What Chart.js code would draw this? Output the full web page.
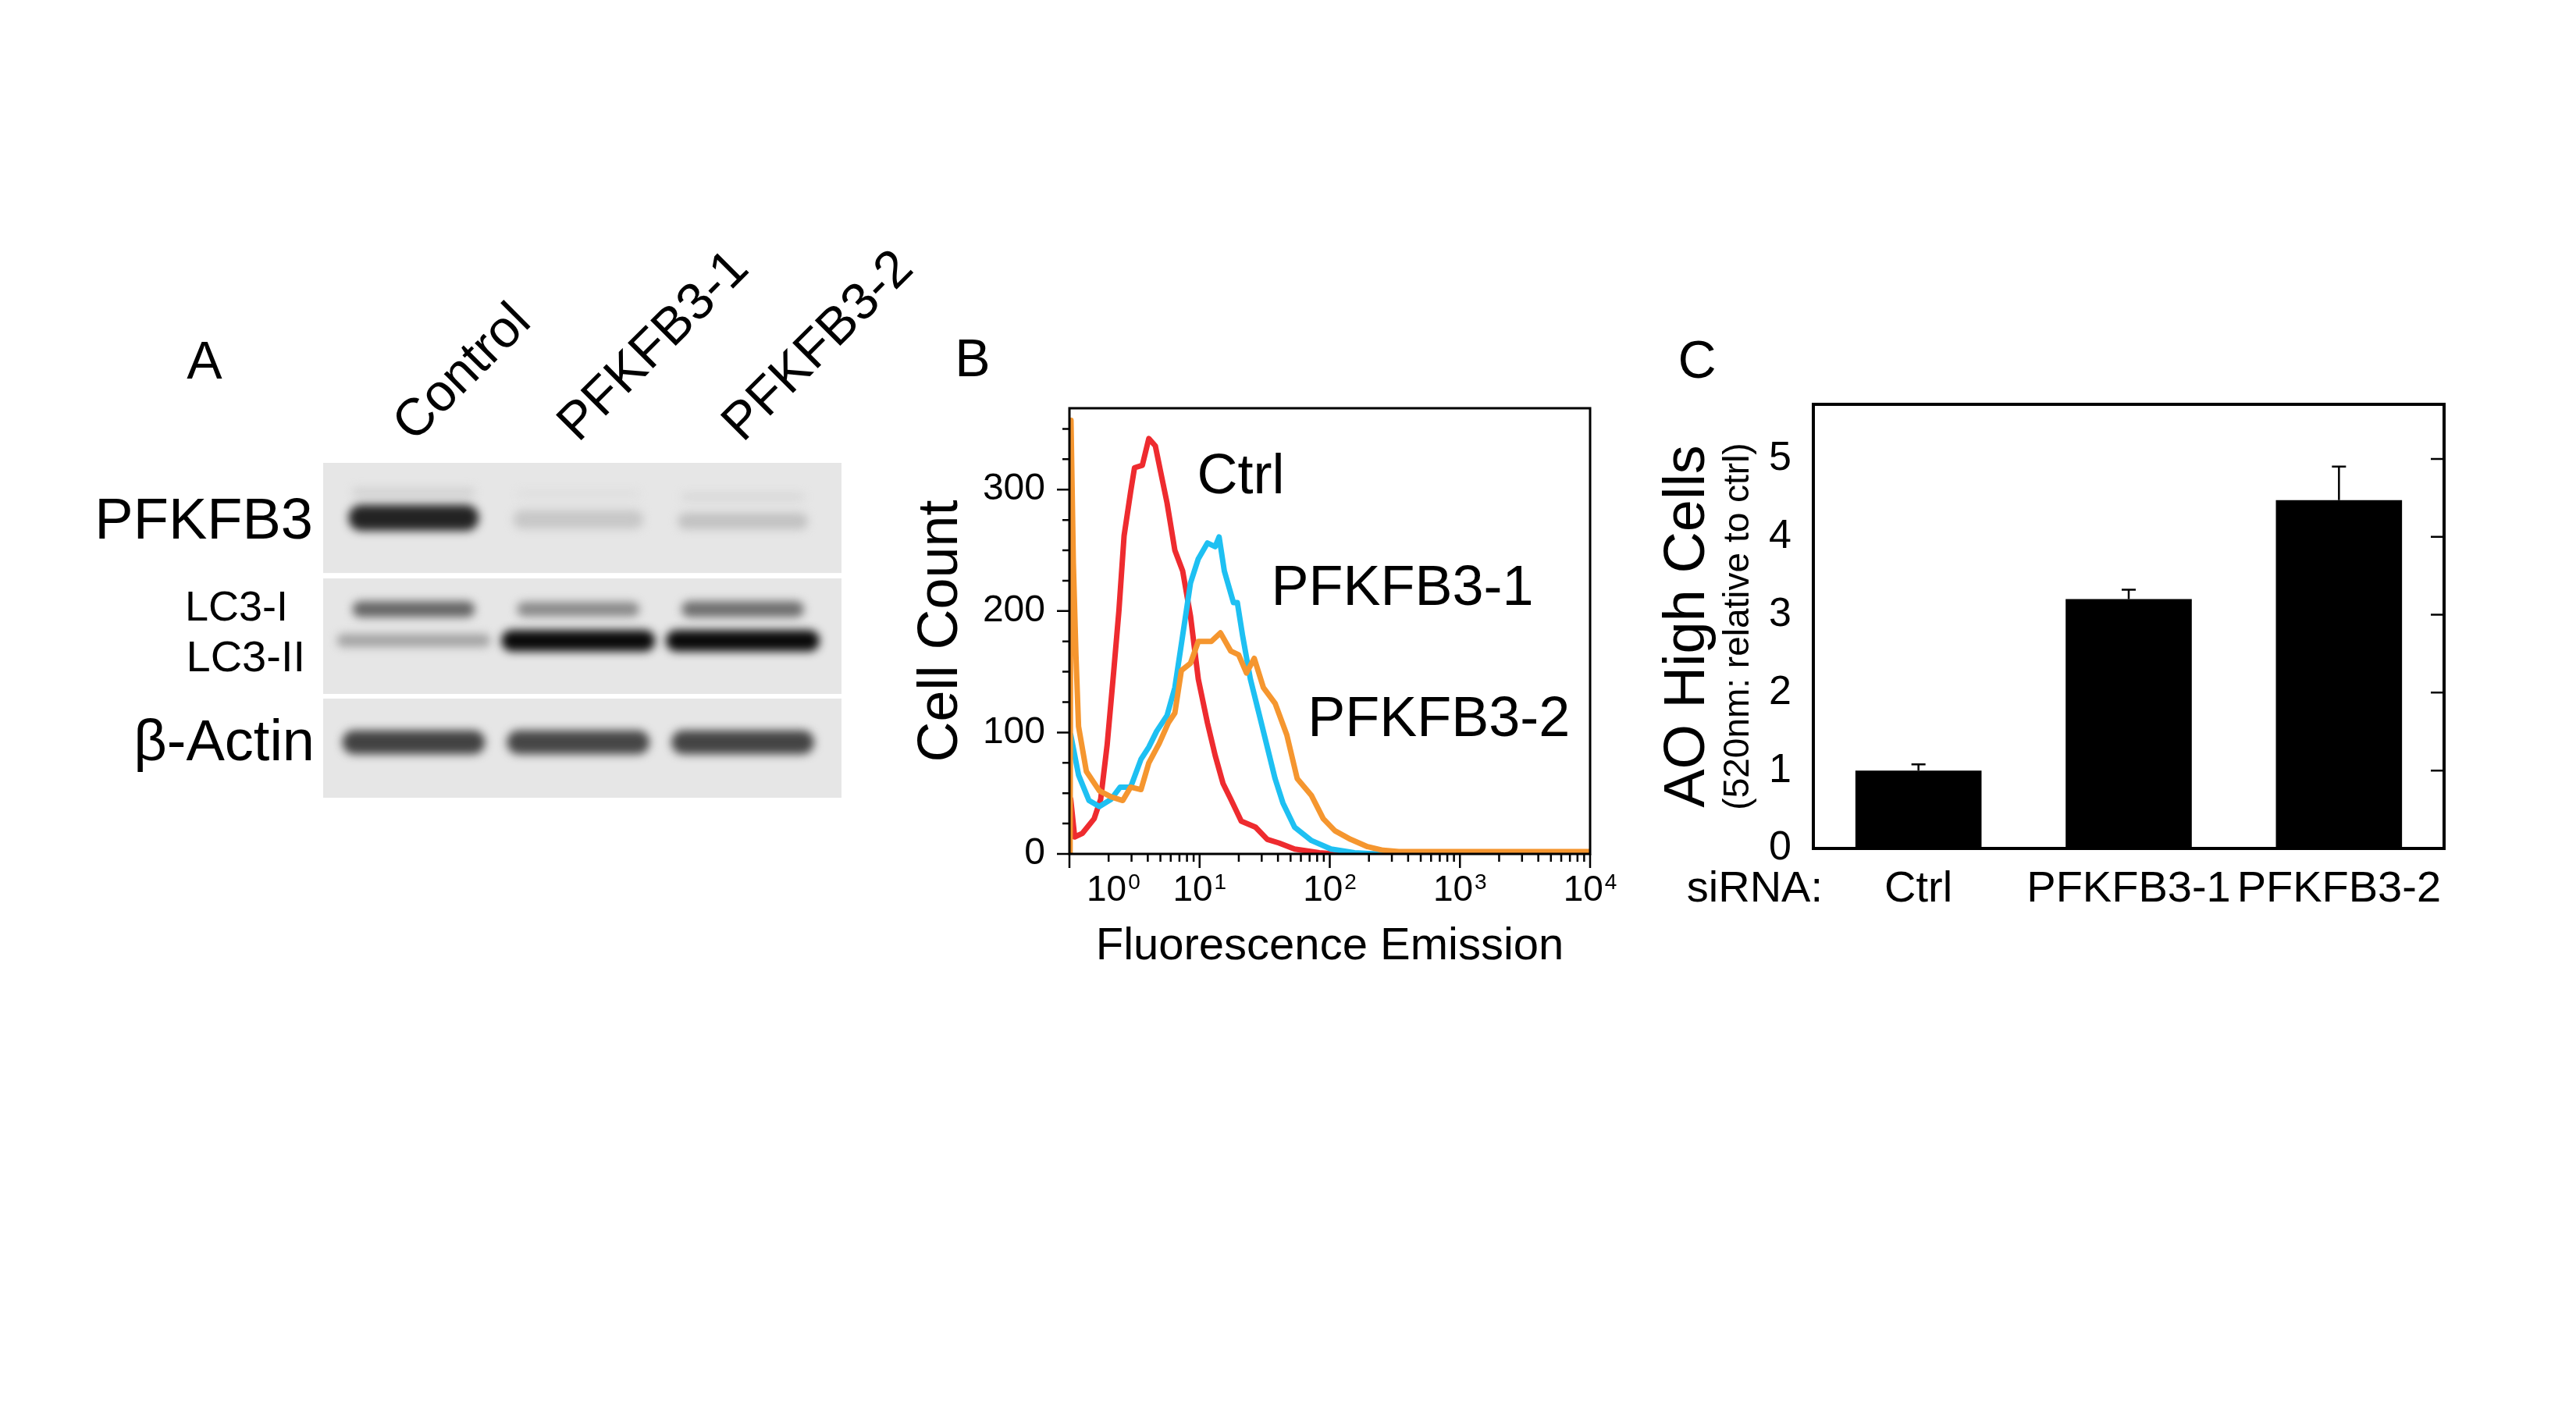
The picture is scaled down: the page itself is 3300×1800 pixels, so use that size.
<!DOCTYPE html>
<html>
<head>
<meta charset="utf-8">
<script src="https://cdn.jsdelivr.net/npm/chart.js@4.4.1/dist/chart.umd.min.js"></script>
<style>
  html, body { margin: 0; padding: 0; background: #fff; }
  body { width: 3300px; height: 1800px; position: relative; overflow: hidden; }
  canvas { position: absolute; }
</style>
</head>
<body>
<canvas id="blot" width="1150" height="800" style="left:100px;top:300px;width:1150px;height:800px"></canvas>
<canvas id="facs" width="950" height="900" style="left:1150px;top:400px;width:950px;height:900px"></canvas>
<canvas id="bars" width="1150" height="900" style="left:2100px;top:400px;width:1150px;height:900px"></canvas>
<script>
// ---- A: western blot (positions in % of blot height, 0 = top) ----
const lanes = ['Control', 'PFKFB3-1', 'PFKFB3-2'];
const blotRows = ['PFKFB3', 'LC3-I', 'LC3-II', 'β-Actin'];
const rowLabelPos = [17.9, 43.6, 58.7, 84.1];
const stripSpans = [[0, 32.9], [34.5, 69.0], [70.4, 100]];
const pfkfb3Span = [[12.6, 20.2], [14.2, 19.6], [15.0, 19.8]];
const pfkfb3Level = [0.88, 0.14, 0.16];
const pfkfb3UpperSpan = [[7.6, 10.0], [8.4, 10.2], [9.3, 11.0]];
const pfkfb3UpperLevel = [0.10, 0.04, 0.08];
const lc3iSpan = [[41.4, 46.0], [41.6, 45.8], [41.4, 46.0]];
const lc3iLevel = [0.58, 0.42, 0.54];
const lc3iiSpan = [[51.2, 54.9], [50.0, 56.2], [50.0, 56.2]];
const lc3iiLevel = [0.30, 0.99, 0.99];
const actinSpan = [[80.0, 86.9], [80.0, 86.9], [80.0, 86.9]];
const actinLevel = [0.74, 0.72, 0.73];

// ---- B: flow histogram (x in log10 decades, y = cell count) ----
const ctrlLog = [0.01, 0.04, 0.10, 0.19, 0.24, 0.29, 0.34, 0.38, 0.42, 0.47, 0.50, 0.56, 0.61, 0.66, 0.70, 0.75, 0.81, 0.87, 0.93, 0.99, 1.06, 1.12, 1.18, 1.24, 1.32, 1.43, 1.52, 1.61, 1.73, 1.92, 2.04, 4.00];
const ctrlCount = [45, 14, 17, 29, 45, 90, 150, 200, 262, 298, 318, 320, 342, 336, 315, 289, 250, 233, 196, 144, 108, 81, 58, 45, 27, 22, 12, 9, 4, 1, 0, 0];
const pfk1Log = [0.01, 0.07, 0.15, 0.23, 0.32, 0.39, 0.47, 0.55, 0.61, 0.67, 0.75, 0.81, 0.87, 0.93, 0.99, 1.06, 1.12, 1.15, 1.19, 1.26, 1.29, 1.33, 1.39, 1.46, 1.52, 1.58, 1.64, 1.73, 1.86, 2.01, 2.19, 2.35, 4.00];
const pfk1Count = [98, 65, 44, 39, 45, 55, 55, 78, 88, 101, 114, 137, 180, 223, 243, 256, 253, 261, 233, 207, 207, 180, 144, 114, 88, 62, 42, 22, 11, 4, 1, 0, 0];
const pfk2Log = [0.005, 0.012, 0.03, 0.05, 0.07, 0.13, 0.23, 0.32, 0.41, 0.47, 0.55, 0.61, 0.69, 0.76, 0.81, 0.86, 0.93, 0.99, 1.09, 1.16, 1.24, 1.30, 1.36, 1.42, 1.49, 1.58, 1.67, 1.75, 1.86, 1.95, 2.04, 2.16, 2.29, 2.41, 2.53, 4.00];
const pfk2Count = [0, 357, 240, 164, 105, 68, 52, 47, 44, 55, 53, 75, 91, 108, 116, 151, 157, 175, 175, 182, 167, 164, 149, 161, 137, 124, 98, 62, 48, 29, 19, 12, 6, 3, 2, 2];
const facsNames = ['Ctrl', 'PFKFB3-1', 'PFKFB3-2'];
const facsNameLog = [0.98, 1.55, 1.83];
const facsNameCount = [310, 218, 110];
const xDecades = [0, 1, 2, 3, 4];

// ---- C: AO high cells ----
const siRNA = ['Ctrl', 'PFKFB3-1', 'PFKFB3-2'];
const aoHigh = [1.0, 3.2, 4.47];
const aoErr = [0.08, 0.12, 0.43];

const FONT = '"Liberation Sans", Arial, Helvetica, sans-serif';
Chart.defaults.font.family = FONT;
Chart.defaults.color = '#000';

function font(px) { return px + 'px ' + FONT; }
function shade(level) {
  const g = Math.round(230 - level * 222);
  return 'rgb(' + g + ',' + g + ',' + g + ')';
}
function band(label, spans, levels, thickness) {
  return {
    label: label,
    data: spans.map((s, i) => ({ x: i, y: s })),
    backgroundColor: levels.map(shade),
    barThickness: thickness
  };
}
function toPoints(logs, counts) {
  return logs.map((v, i) => ({ x: Math.pow(10, v), y: counts[i] }));
}

// ---------- panel A ----------
const blotDecor = {
  id: 'blotDecor',
  beforeDatasetsDraw(chart) {
    const ctx = chart.ctx, a = chart.chartArea, ys = chart.scales.y;
    ctx.fillStyle = '#e6e6e6';
    stripSpans.forEach(s => {
      const y0 = ys.getPixelForValue(s[0]), y1 = ys.getPixelForValue(s[1]);
      ctx.fillRect(a.left, y0, a.right - a.left, y1 - y0);
    });
    ctx.save();
    ctx.filter = 'blur(6px)';
  },
  afterDatasetsDraw(chart) {
    chart.ctx.restore();
  },
  afterDraw(chart) {
    const ctx = chart.ctx, a = chart.chartArea, xs = chart.scales.x, ys = chart.scales.y;
    ctx.save();
    ctx.fillStyle = '#000';
    ctx.textBaseline = 'middle';
    ctx.textAlign = 'right';
    const rowFont = [74, 54, 56, 74];
    const rowRight = [13, 45, 23, 11];
    blotRows.forEach((r, i) => {
      ctx.font = font(rowFont[i]);
      ctx.fillText(r, a.left - rowRight[i], ys.getPixelForValue(rowLabelPos[i]));
    });
    ctx.font = font(67);
    ctx.textAlign = 'left';
    ctx.textBaseline = 'alphabetic';
    lanes.forEach((l, i) => {
      ctx.save();
      ctx.translate(xs.getPixelForValue(i), a.top - 25);
      ctx.rotate(-Math.PI / 4);
      ctx.fillText(l, 0, 0);
      ctx.restore();
    });
    ctx.font = font(68);
    ctx.textAlign = 'center';
    ctx.textBaseline = 'middle';
    ctx.fillText('A', 162, 166);
    ctx.restore();
  }
};

new Chart(document.getElementById('blot'), {
  type: 'bar',
  data: {
    datasets: [
      band('PFKFB3', pfkfb3Span, pfkfb3Level, 166),
      band('PFKFB3 upper', pfkfb3UpperSpan, pfkfb3UpperLevel, 156),
      band('LC3-I', lc3iSpan, lc3iLevel, 156),
      band('LC3-II', lc3iiSpan, lc3iiLevel, 196),
      band('β-Actin', actinSpan, actinLevel, 182)
    ]
  },
  options: {
    responsive: false,
    animation: false,
    devicePixelRatio: 1,
    layout: { padding: { left: 314, top: 293, right: 172, bottom: 78 } },
    plugins: { legend: { display: false }, tooltip: { enabled: false } },
    datasets: { bar: { grouped: false, borderSkipped: false, borderRadius: 16, borderWidth: 0 } },
    scales: {
      x: { type: 'linear', min: -0.55, max: 2.6, offset: false, display: false },
      y: { min: 0, max: 100, reverse: true, display: false }
    }
  },
  plugins: [blotDecor]
});

// ---------- panel B ----------
const facsFrame = {
  id: 'facsFrame',
  afterDraw(chart) {
    const ctx = chart.ctx, a = chart.chartArea, xs = chart.scales.x, ys = chart.scales.y;
    ctx.save();
    ctx.strokeStyle = '#000';
    ctx.lineWidth = 3;
    ctx.strokeRect(a.left, a.top, a.right - a.left, a.bottom - a.top);
    ctx.lineWidth = 2.5;
    ctx.beginPath();
    xDecades.forEach(d => {
      const steps = d < 4 ? [1, 2, 3, 4, 5, 6, 7, 8, 9] : [1];
      steps.forEach(m => {
        const px = xs.getPixelForValue(m * Math.pow(10, d));
        ctx.moveTo(px, a.bottom);
        ctx.lineTo(px, a.bottom + (m === 1 ? 18 : 10));
      });
    });
    for (let v = 0; v <= 350; v += 25) {
      const py = ys.getPixelForValue(v);
      ctx.moveTo(a.left, py);
      ctx.lineTo(a.left - (v % 100 === 0 ? 16 : 9), py);
    }
    ctx.stroke();

    // decade labels 10^n
    ctx.fillStyle = '#000';
    ctx.textBaseline = 'middle';
    ctx.textAlign = 'left';
    xDecades.forEach(d => {
      ctx.font = font(46);
      const wBase = ctx.measureText('10').width;
      ctx.font = font(28);
      const wSup = ctx.measureText(String(d)).width;
      const w = wBase + wSup + 2;
      let x0 = xs.getPixelForValue(Math.pow(10, d)) - w / 2;
      if (d === 0) x0 = a.left + 22;
      const y = a.bottom + 47;
      ctx.font = font(46);
      ctx.fillText('10', x0, y);
      ctx.font = font(28);
      ctx.fillText(String(d), x0 + wBase + 2, y - 10);
    });

    ctx.font = font(72);
    facsNames.forEach((n, i) => {
      ctx.fillText(n, xs.getPixelForValue(Math.pow(10, facsNameLog[i])), ys.getPixelForValue(facsNameCount[i]));
    });
    ctx.font = font(68);
    ctx.textAlign = 'center';
    ctx.fillText('B', 96, 63);
    ctx.restore();
  }
};

new Chart(document.getElementById('facs'), {
  type: 'line',
  data: {
    datasets: [
      { label: 'PFKFB3-2', data: toPoints(pfk2Log, pfk2Count), borderColor: '#f5962f', order: 1 },
      { label: 'PFKFB3-1', data: toPoints(pfk1Log, pfk1Count), borderColor: '#1ec0f2', order: 2 },
      { label: 'Ctrl', data: toPoints(ctrlLog, ctrlCount), borderColor: '#ee2b2f', order: 3 }
    ]
  },
  options: {
    responsive: false,
    animation: false,
    devicePixelRatio: 1,
    layout: { padding: { top: 123, right: 63, left: 0, bottom: 0 } },
    elements: { line: { borderWidth: 7, tension: 0, borderJoinStyle: 'round', borderCapStyle: 'round', fill: false }, point: { radius: 0 } },
    plugins: { legend: { display: false }, tooltip: { enabled: false } },
    scales: {
      x: {
        type: 'logarithmic', min: 1, max: 10000,
        grid: { display: false, drawTicks: false }, border: { display: false },
        ticks: { display: false },
        title: { display: true, text: 'Fluorescence Emission', font: { size: 58 }, padding: { top: 0, bottom: 52 } },
        afterFit: s => { s.height = 206; }
      },
      y: {
        min: 0, max: 367,
        grid: { display: false, drawTicks: false }, border: { display: false },
        ticks: { stepSize: 100, autoSkip: false, padding: 31, font: { size: 48 }, callback: v => (v % 100 === 0 ? v : '') },
        title: { display: true, text: 'Cell Count', font: { size: 72 }, padding: { top: 13, bottom: 0 } },
        afterFit: s => { s.width = 220; }
      }
    }
  },
  plugins: [facsFrame]
});

// ---------- panel C ----------
const barFrame = {
  id: 'barFrame',
  afterDatasetsDraw(chart) {
    const ctx = chart.ctx, ys = chart.scales.y;
    const meta = chart.getDatasetMeta(0);
    ctx.save();
    ctx.strokeStyle = '#000';
    ctx.lineWidth = 2.5;
    ctx.beginPath();
    meta.data.forEach((el, i) => {
      const yTop = ys.getPixelForValue(aoHigh[i] + aoErr[i]);
      ctx.moveTo(el.x, el.y);
      ctx.lineTo(el.x, yTop);
      ctx.moveTo(el.x - 9, yTop);
      ctx.lineTo(el.x + 9, yTop);
    });
    ctx.stroke();
    ctx.restore();
  },
  afterDraw(chart) {
    const ctx = chart.ctx, a = chart.chartArea, ys = chart.scales.y;
    ctx.save();
    ctx.strokeStyle = '#000';
    ctx.lineWidth = 4;
    ctx.strokeRect(a.left, a.top, a.right - a.left, a.bottom - a.top);
    ctx.lineWidth = 2.5;
    ctx.beginPath();
    for (let v = 1; v <= 5; v++) {
      const py = ys.getPixelForValue(v);
      ctx.moveTo(a.right, py);
      ctx.lineTo(a.right - 17, py);
    }
    ctx.stroke();
    ctx.fillStyle = '#000';
    ctx.font = font(56);
    ctx.textAlign = 'right';
    ctx.textBaseline = 'middle';
    ctx.fillText('siRNA:', 235, a.bottom + 53);
    ctx.save();
    ctx.translate(127, (a.top + a.bottom) / 2);
    ctx.rotate(-Math.PI / 2);
    ctx.textAlign = 'center';
    ctx.font = font(46);
    ctx.fillText('(520nm: relative to ctrl)', 0, 0);
    ctx.restore();
    ctx.font = font(68);
    ctx.textAlign = 'center';
    ctx.fillText('C', 74, 65);
    ctx.restore();
  }
};

new Chart(document.getElementById('bars'), {
  type: 'bar',
  data: {
    labels: siRNA,
    datasets: [{ data: aoHigh, backgroundColor: '#000', borderWidth: 0, categoryPercentage: 1, barPercentage: 0.6 }]
  },
  options: {
    responsive: false,
    animation: false,
    devicePixelRatio: 1,
    layout: { padding: { top: 118, right: 119, left: 0, bottom: 0 } },
    plugins: { legend: { display: false }, tooltip: { enabled: false } },
    scales: {
      x: {
        grid: { display: false, drawTicks: false }, border: { display: false },
        ticks: { font: { size: 56 }, padding: 19, maxRotation: 0, autoSkip: false },
        afterFit: s => { s.height = 213; }
      },
      y: {
        min: 0, max: 5.7,
        grid: { display: false, drawTicks: false }, border: { display: false },
        ticks: { stepSize: 1, font: { size: 52 }, padding: 28, callback: v => (Number.isInteger(v) ? v : '') },
        title: { display: true, text: 'AO High Cells', font: { size: 74 }, padding: { top: 18, bottom: 0 } },
        afterFit: s => { s.width = 223; }
      }
    }
  },
  plugins: [barFrame]
});
</script>
</body>
</html>
